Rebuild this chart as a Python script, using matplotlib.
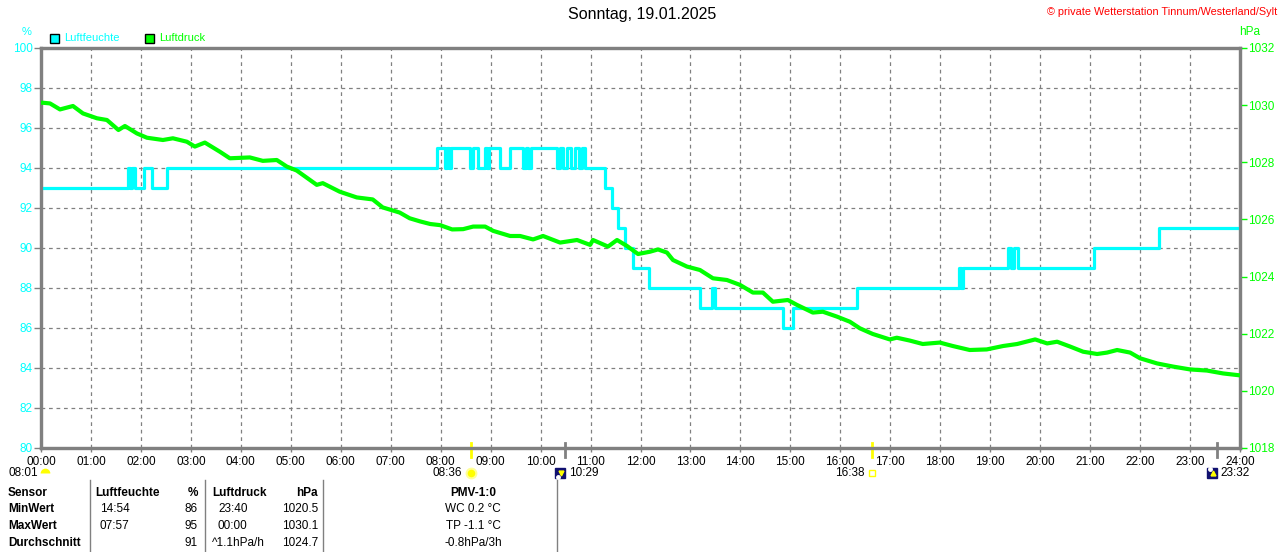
import matplotlib
matplotlib.use('Agg')
import matplotlib.pyplot as plt
from matplotlib.markers import MarkerStyle

plt.rcParams['font.family'] = ['Liberation Sans', 'DejaVu Sans']

# Luftfeuchte (%) - Stufenwerte, Startzeit in Stunden
hum_t = [0.00, 1.74, 1.78, 1.82, 1.88, 2.06, 2.22, 2.52, 7.93, 8.09, 8.13, 8.17,
         8.21, 8.59, 8.65, 8.75, 8.89, 8.93, 8.97, 9.19, 9.39, 9.65, 9.70, 9.75,
         9.80, 10.33, 10.38, 10.45, 10.52, 10.60, 10.68, 10.76, 10.82, 10.89,
         11.29, 11.43, 11.55, 11.69, 11.85, 12.17, 13.19, 13.43, 13.49, 14.85,
         15.05, 16.33, 18.37, 18.41, 18.45, 19.36, 19.42, 19.48, 19.56, 21.08,
         22.38, 24.00]
hum_v = [93, 94, 93, 94, 93, 94, 93, 94, 95, 94, 95, 94,
         95, 94, 95, 94, 95, 94, 95, 94, 95, 94, 95, 94,
         95, 94, 95, 94, 95, 94, 95, 94, 95, 94,
         93, 92, 91, 90, 89, 88, 87, 88, 87, 86,
         87, 88, 89, 88, 89, 90, 89, 90, 89, 90,
         91, 91]

# Luftdruck (hPa)
press_t = [0.00, 0.18, 0.38, 0.64, 0.84, 1.12, 1.32, 1.55, 1.68, 1.92, 2.12, 2.44,
           2.64, 2.92, 3.08, 3.28, 3.58, 3.78, 4.18, 4.44, 4.72, 4.92, 5.12, 5.52,
           5.64, 5.98, 6.32, 6.64, 6.84, 7.18, 7.38, 7.59, 7.79, 7.99, 8.23, 8.45,
           8.65, 8.89, 9.05, 9.39, 9.59, 9.85, 10.05, 10.39, 10.73, 10.99, 11.05,
           11.35, 11.53, 11.73, 11.95, 12.19, 12.35, 12.53, 12.65, 12.93, 13.19,
           13.45, 13.73, 13.99, 14.25, 14.45, 14.65, 14.95, 15.13, 15.45, 15.65,
           15.93, 16.19, 16.39, 16.65, 16.99, 17.13, 17.39, 17.65, 17.99, 18.25,
           18.59, 18.93, 19.26, 19.54, 19.90, 20.14, 20.34, 20.60, 20.86, 21.14,
           21.34, 21.54, 21.80, 22.00, 22.34, 22.66, 23.00, 23.34, 23.66, 23.96]
press_v = [1030.09, 1030.06, 1029.85, 1029.97, 1029.71, 1029.54, 1029.48, 1029.13,
           1029.27, 1029.01, 1028.86, 1028.78, 1028.84, 1028.72, 1028.55, 1028.69,
           1028.37, 1028.14, 1028.17, 1028.05, 1028.08, 1027.85, 1027.71, 1027.21,
           1027.27, 1026.97, 1026.77, 1026.70, 1026.42, 1026.24, 1026.04, 1025.93,
           1025.84, 1025.80, 1025.65, 1025.66, 1025.75, 1025.75, 1025.60, 1025.42,
           1025.42, 1025.30, 1025.42, 1025.19, 1025.28, 1025.11, 1025.28, 1025.05,
           1025.28, 1025.07, 1024.79, 1024.87, 1024.95, 1024.84, 1024.58, 1024.35,
           1024.23, 1023.94, 1023.88, 1023.71, 1023.44, 1023.44, 1023.12, 1023.18,
           1023.01, 1022.74, 1022.77, 1022.60, 1022.42, 1022.19, 1021.99, 1021.80,
           1021.86, 1021.76, 1021.64, 1021.69, 1021.57, 1021.43, 1021.45, 1021.57,
           1021.64, 1021.80, 1021.66, 1021.72, 1021.55, 1021.37, 1021.29, 1021.34,
           1021.43, 1021.34, 1021.14, 1020.96, 1020.85, 1020.75, 1020.71, 1020.61,
           1020.55]

hours = list(range(25))
hour_labels = ['%02d:00' % h for h in hours]
hum_ticks = list(range(80, 101, 2))
press_ticks = list(range(1018, 1033, 2))

# Ereignisse (Sonne / Mond)
dawn_time = '08:01'
ev_times = ['08:36', '10:29', '16:38', '23:32']
ev_kind = ['sunrise', 'moonset', 'sunset', 'moonrise']

# Tabelle
row_labels = ['MinWert', 'MaxWert', 'Durchschnitt']
hum_times = ['14:54', '07:57', '']
hum_vals = ['86', '95', '91']
press_times = ['23:40', '00:00', '^1.1hPa/h']
press_vals = ['1020.5', '1030.1', '1024.7']
pmv_vals = ['WC 0.2 °C', 'TP -1.1 °C', '-0.8hPa/3h']

CYAN = '#00ffff'
GREEN = '#00ff00'
GRAY = '#808080'

W, H = 1280, 552
fig = plt.figure(figsize=(12.8, 5.52), dpi=100)

def fx(x):
    return x / W

def fy(y):
    return 1 - y / H

def tohour(s):
    hh, mm = s.split(':')
    return int(hh) + int(mm) / 60.0

ax = fig.add_axes([fx(41), fy(448), (1240 - 41) / W, (448 - 48) / H])
ax.step(hum_t, hum_v, where='post', color=CYAN, lw=2.3, zorder=3)
ax.set_xlim(0, 24)
ax.set_ylim(80, 100)
ax.set_xticks(hours)
ax.set_xticklabels(hour_labels)
ax.set_yticks(hum_ticks)
ax.grid(True, color=GRAY, ls=(0, (3, 3)), lw=0.9)
ax.set_axisbelow(True)
ax.tick_params(axis='y', colors=GRAY, labelcolor=CYAN, length=5, width=1, labelsize=8.5, pad=1)
ax.tick_params(axis='x', colors=GRAY, labelcolor='black', length=3, width=1, labelsize=8.5, pad=3)

ax2 = ax.twinx()
ax2.plot(press_t, press_v, color=GREEN, lw=3.0, zorder=4)
ax2.set_ylim(1018, 1032)
ax2.set_yticks(press_ticks)
ax2.tick_params(axis='y', colors=GREEN, labelcolor=GREEN, length=5, width=1, labelsize=8.5, pad=1)

for a in (ax, ax2):
    for sp in a.spines.values():
        sp.set_color(GRAY)
        sp.set_linewidth(2.3)

# Ereignis-Markierungen an der Zeitachse
tr = ax.get_xaxis_transform()
for t, k in zip(ev_times, ev_kind):
    h = tohour(t)
    col = 'yellow' if k.startswith('sun') else GRAY
    ax.plot([h, h], [0.0125, -0.0225], color=col, lw=2, transform=tr, clip_on=False, zorder=6)
    yi = -0.0625
    if k == 'sunrise':
        ax.plot(h, yi, 'o', ms=7, mfc='yellow', mec='#ffff99', mew=1.5, transform=tr, clip_on=False)
        ax.annotate(t, (h, yi), xytext=(-6, 0), textcoords='offset points', xycoords=tr,
                    ha='right', va='center', fontsize=8.5, annotation_clip=False)
    elif k == 'sunset':
        ax.plot(h, yi, 's', ms=4.5, mfc='none', mec='yellow', mew=1, transform=tr, clip_on=False)
        ax.annotate(t, (h, yi), xytext=(-5, 0), textcoords='offset points', xycoords=tr,
                    ha='right', va='center', fontsize=8.5, annotation_clip=False)
    else:
        hx = h - 0.09
        ax.plot(hx, yi, 's', ms=7, mfc='#101070', mec='#101070', transform=tr, clip_on=False)
        arrow = 'v' if k == 'moonset' else '^'
        ax.plot(hx + 0.02, yi, arrow, ms=3.5, mfc='yellow', mec='yellow', transform=tr, clip_on=False)
        ax.plot(hx - 0.05, yi + (0.01 if k == 'moonrise' else -0.01), 'o', ms=2.5, mfc='white', mec='white',
                transform=tr, clip_on=False)
        ax.annotate(t, (h, yi), xytext=(3, 0), textcoords='offset points', xycoords=tr,
                    ha='left', va='center', fontsize=8.5, annotation_clip=False)

# Daemmerung links
ax.plot(0.09, -0.0625, marker=MarkerStyle('o', fillstyle='top'), ms=7, mfc='yellow',
        mfcalt='none', mec='none', transform=tr, clip_on=False)
fig.text(fx(38), fy(473), dawn_time, ha='right', va='center', fontsize=8.5)

# Titel und Beschriftungen
fig.text(fx(642), fy(15), 'Sonntag, 19.01.2025', ha='center', va='center', fontsize=11.5)
fig.text(fx(1277), fy(12), '© private Wetterstation Tinnum/Westerland/Sylt',
         ha='right', va='center', fontsize=7.8, color='red')
fig.text(fx(27), fy(32), '%', ha='center', va='center', fontsize=8, color=CYAN)
fig.text(fx(1250), fy(32), 'hPa', ha='center', va='center', fontsize=8.5, color=GREEN)

# Legende
for x0, lab, col in [(50, 'Luftfeuchte', CYAN), (145, 'Luftdruck', GREEN)]:
    fig.patches.append(plt.Rectangle((fx(x0), fy(43)), 9 / W, 9 / H, transform=fig.transFigure,
                                     facecolor=col, edgecolor='black', lw=1))
    fig.text(fx(x0 + 14), fy(38), lab, ha='left', va='center', fontsize=8, color=col)

# Tabelle
for xs in [90, 205, 323, 557]:
    fig.add_artist(plt.Line2D([fx(xs), fx(xs)], [fy(480), fy(552)], color=GRAY, lw=1))

ty = [493, 509, 526, 543]
fs = 8.5
fig.text(fx(8), fy(ty[0]), 'Sensor', fontsize=fs, weight='bold', va='center')
fig.text(fx(95), fy(ty[0]), 'Luftfeuchte', fontsize=fs, weight='bold', va='center')
fig.text(fx(198), fy(ty[0]), '%', fontsize=fs, weight='bold', va='center', ha='right')
fig.text(fx(212), fy(ty[0]), 'Luftdruck', fontsize=fs, weight='bold', va='center')
fig.text(fx(318), fy(ty[0]), 'hPa', fontsize=fs, weight='bold', va='center', ha='right')
fig.text(fx(473), fy(ty[0]), 'PMV-1:0', fontsize=fs, weight='bold', va='center', ha='center')
for i in range(3):
    y = fy(ty[i + 1])
    fig.text(fx(8), y, row_labels[i], fontsize=fs, weight='bold', va='center')
    fig.text(fx(100), y, hum_times[i], fontsize=fs, va='center')
    fig.text(fx(198), y, hum_vals[i], fontsize=fs, va='center', ha='right')
    px = 218 if ':' in press_times[i] else 212
    fig.text(fx(px), y, press_times[i], fontsize=fs, va='center')
    fig.text(fx(318), y, press_vals[i], fontsize=fs, va='center', ha='right')
    fig.text(fx(473), y, pmv_vals[i], fontsize=fs, va='center', ha='center')

fig.savefig('out.png', dpi=100)
